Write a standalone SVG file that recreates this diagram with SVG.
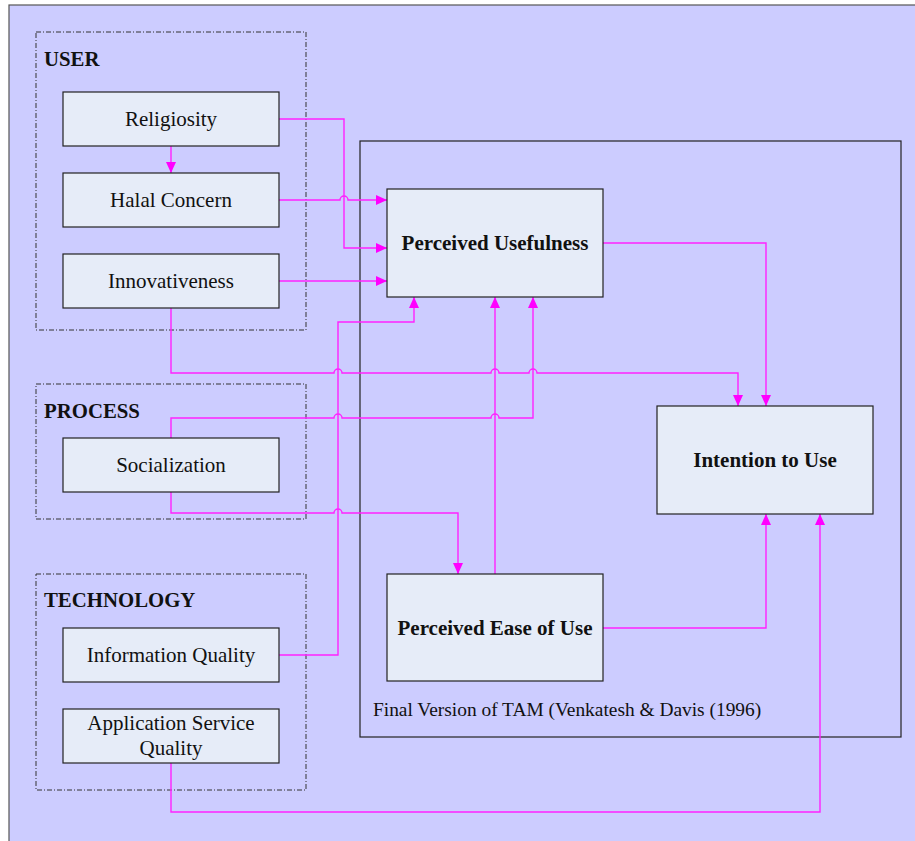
<svg xmlns="http://www.w3.org/2000/svg" width="915" height="841" viewBox="0 0 915 841">
<style>
.box{fill:#E6ECF8;stroke:#222;stroke-width:1.2}
.grp{fill:none;stroke:#333;stroke-width:1;stroke-dasharray:5 2 1 2}
.t{font-family:"Liberation Serif","Times New Roman",serif;font-size:21px;fill:#111;text-anchor:middle}
.b{font-family:"Liberation Serif","Times New Roman",serif;font-size:21px;font-weight:bold;fill:#111;text-anchor:middle}
.g{font-family:"Liberation Serif","Times New Roman",serif;font-size:20.8px;font-weight:bold;fill:#111}
.ca{fill:none;stroke:#FF22FF;stroke-width:1.4;marker-end:url(#ah)}
</style>
<defs>
<marker id="ah" markerUnits="userSpaceOnUse" markerWidth="12" markerHeight="11" refX="11" refY="5" orient="auto">
<path d="M0,0 L11,5 L0,10 z" fill="#FF00FF"/>
</marker>
</defs>
<rect x="9" y="5" width="920" height="850" fill="#CCCCFF" stroke="#555" stroke-width="1.2"/>
<g id="tam">
<rect x="360" y="141" width="541" height="596" fill="none" stroke="#222" stroke-width="1.2"/>
<text x="373" y="716" style="font-family:'Liberation Serif','Times New Roman',serif;font-size:19.4px;fill:#111">Final Version of TAM (Venkatesh &amp; Davis (1996)</text>
</g>
<g id="user-group">
<rect class="grp" x="36" y="32" width="270" height="298"/>
<text class="g" x="44" y="66">USER</text>
</g>
<g id="process-group">
<rect class="grp" x="36" y="384" width="270" height="135"/>
<text class="g" x="44" y="418">PROCESS</text>
</g>
<g id="technology-group">
<rect class="grp" x="36" y="574" width="270" height="216"/>
<text class="g" x="44" y="607">TECHNOLOGY</text>
</g>
<g id="connectors">
<path class="ca" d="M171,146 V173"/>
<path class="ca" d="M279,119 H344 V248 H387"/>
<path class="ca" d="M279,200 H340 A4,4 0 0 1 348,200 H387"/>
<path class="ca" d="M279,281 H387"/>
<path class="ca" d="M171,308 V373 H334 A4,4 0 0 1 342,373 H491 A4,4 0 0 1 499,373 H529 A4,4 0 0 1 537,373 H738 V406"/>
<path class="ca" d="M171,438 V418 H334 A4,4 0 0 1 342,418 H491 A4,4 0 0 1 499,418 H533 V297"/>
<path class="ca" d="M171,492 V513 H334 A4,4 0 0 1 342,513 H458 V574"/>
<path class="ca" d="M279,655 H338 V322 H414 V297"/>
<path class="ca" d="M495,574 V297"/>
<path class="ca" d="M603,243 H766 V406"/>
<path class="ca" d="M603,628 H766 V514"/>
<path class="ca" d="M171,763 V812 H820 V514"/>
</g>
<g id="religiosity">
<rect class="box" x="63" y="92" width="216" height="54"/>
<text class="t" x="171" y="126">Religiosity</text>
</g>
<g id="halal-concern">
<rect class="box" x="63" y="173" width="216" height="54"/>
<text class="t" x="171" y="207">Halal Concern</text>
</g>
<g id="innovativeness">
<rect class="box" x="63" y="254" width="216" height="54"/>
<text class="t" x="171" y="288">Innovativeness</text>
</g>
<g id="socialization">
<rect class="box" x="63" y="438" width="216" height="54"/>
<text class="t" x="171" y="472">Socialization</text>
</g>
<g id="information-quality">
<rect class="box" x="63" y="628" width="216" height="54"/>
<text class="t" x="171" y="662">Information Quality</text>
</g>
<g id="application-service-quality">
<rect class="box" x="63" y="709" width="216" height="54"/>
<text class="t" x="171" y="730">Application Service</text>
<text class="t" x="171" y="755">Quality</text>
</g>
<g id="perceived-usefulness">
<rect class="box" x="387" y="189" width="216" height="108"/>
<text class="b" x="495" y="250">Perceived Usefulness</text>
</g>
<g id="intention-to-use">
<rect class="box" x="657" y="406" width="216" height="108"/>
<text class="b" x="765" y="467">Intention to Use</text>
</g>
<g id="perceived-ease-of-use">
<rect class="box" x="387" y="574" width="216" height="107"/>
<text class="b" x="495" y="635">Perceived Ease of Use</text>
</g>
</svg>
